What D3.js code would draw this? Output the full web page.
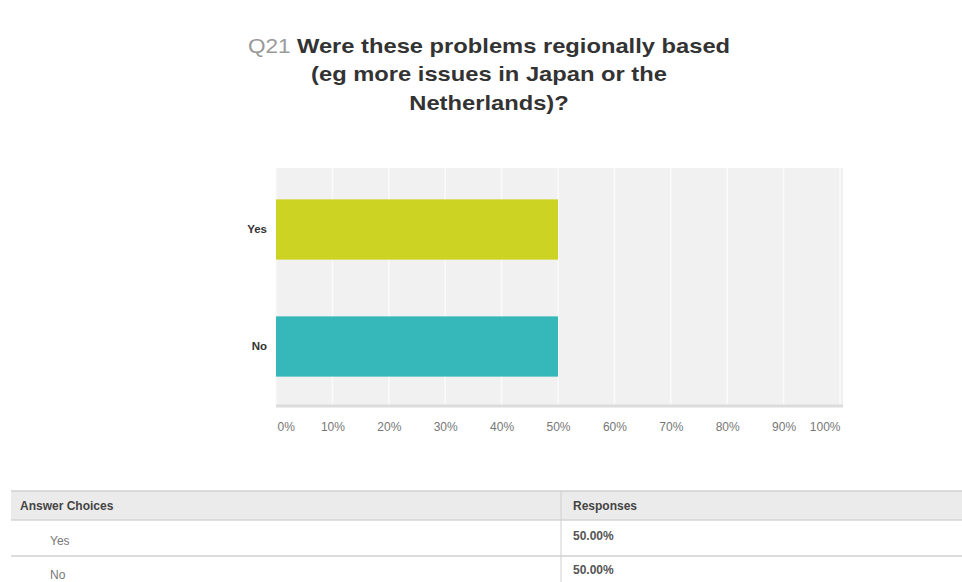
<!DOCTYPE html>
<html>
<head>
<meta charset="utf-8">
<script src="https://cdn.jsdelivr.net/npm/d3@7"></script>
<style>
  html, body { margin: 0; padding: 0; background: #fff; }
  svg { display: block; font-family: "Liberation Sans", Arial, sans-serif; }
</style>
</head>
<body>
<svg id="chart" width="962" height="582"></svg>
<script>
// Survey question and answers
const questionNumber = "Q21";
const titleLines = ["Were these problems regionally based", "(eg more issues in Japan or the", "Netherlands)?"];
const categories = ["Yes", "No"];
const values = [50, 50];           // percent of responses
const tickValues = [0, 10, 20, 30, 40, 50, 60, 70, 80, 90, 100];
const barColors = ["#cdd322", "#36b8ba"];
const tableHeaders = ["Answer Choices", "Responses"];

const svg = d3.select("#chart");

// Title (set in a slightly widened face)
const title = svg.append("g")
  .attr("transform", "translate(489,0) scale(1.13,1)")
  .append("text")
  .attr("text-anchor", "middle")
  .attr("font-size", 21)
  .attr("font-weight", "bold")
  .attr("fill", "#333");
titleLines.forEach((line, i) => {
  const t = title.append("tspan")
    .attr("x", 0)
    .attr("y", 53 + i * 28.5);
  if (i === 0) {
    t.append("tspan").attr("fill", "#9a9a9a").attr("font-weight", "normal").attr("font-size", 20).text(questionNumber + " ");
  }
  t.append("tspan").text(line);
});

// Plot area
const plot = { left: 276, right: 840, top: 168, bottom: 405 };

const x = d3.scaleLinear().domain([0, 100]).range([plot.left, plot.right]);
const y = d3.scaleBand().domain(categories).range([171, plot.bottom])
  .paddingInner(0.485).paddingOuter(0.2425);

svg.append("rect")
  .attr("x", plot.left).attr("y", plot.top)
  .attr("width", plot.right - plot.left + 3).attr("height", plot.bottom - plot.top)
  .attr("fill", "#f1f1f1");

// vertical gridlines
svg.append("g").selectAll("line").data(tickValues).join("line")
  .attr("x1", d => x(d)).attr("x2", d => x(d))
  .attr("y1", plot.top).attr("y2", plot.bottom)
  .attr("stroke", "#fafafa").attr("stroke-width", 1.5);

// baseline
svg.append("line")
  .attr("x1", plot.left).attr("x2", plot.right + 3)
  .attr("y1", plot.bottom + 1).attr("y2", plot.bottom + 1)
  .attr("stroke", "#dcdcdc").attr("stroke-width", 3);

// bars
svg.append("g").selectAll("rect").data(categories).join("rect")
  .attr("x", x(0))
  .attr("y", d => y(d))
  .attr("width", (d, i) => x(values[i]) - x(0))
  .attr("height", y.bandwidth())
  .attr("fill", (d, i) => barColors[i]);

// category labels
const yAxis = svg.append("g")
  .attr("transform", `translate(${plot.left - 9},0)`)
  .call(d3.axisLeft(y).tickSize(0).tickPadding(0));
yAxis.select(".domain").remove();
yAxis.selectAll("text")
  .attr("font-family", "'Liberation Sans', Arial, sans-serif")
  .attr("font-size", 11.5).attr("font-weight", "bold").attr("fill", "#333");

// percentage axis
const xAxis = svg.append("g")
  .attr("transform", `translate(0,${plot.bottom + 17})`)
  .call(d3.axisBottom(x).tickValues(tickValues).tickFormat(d => d + "%").tickSize(0).tickPadding(0));
xAxis.select(".domain").remove();
xAxis.selectAll("text")
  .attr("font-family", "'Liberation Sans', Arial, sans-serif")
  .attr("font-size", 12).attr("fill", "#777")
  .attr("text-anchor", d => d === 0 ? "start" : (d === 100 ? "end" : "middle"))
  .attr("dx", d => d === 0 ? 1 : 0);

// Summary table
const table = { left: 11, right: 962, divider: 561, top: 491, headerH: 29, rowH: 36 };
svg.append("rect")
  .attr("x", table.left).attr("y", table.top)
  .attr("width", table.right - table.left).attr("height", table.headerH)
  .attr("fill", "#ebebeb");
svg.append("line")
  .attr("x1", table.left).attr("x2", table.right)
  .attr("y1", table.top).attr("y2", table.top)
  .attr("stroke", "#d0d0d0").attr("stroke-width", 1.5);
svg.append("line")
  .attr("x1", table.left).attr("x2", table.right)
  .attr("y1", table.top + table.headerH).attr("y2", table.top + table.headerH)
  .attr("stroke", "#d5d5d5").attr("stroke-width", 1.5);
svg.append("line")
  .attr("x1", table.divider).attr("x2", table.divider)
  .attr("y1", table.top).attr("y2", 582)
  .attr("stroke", "#cfcfcf").attr("stroke-width", 1);

svg.append("g").selectAll("text").data(tableHeaders).join("text")
  .attr("x", (d, i) => i === 0 ? 20 : table.divider + 12)
  .attr("y", table.top + 19)
  .attr("font-size", 12).attr("font-weight", "bold").attr("fill", "#444")
  .text(d => d);

const rows = svg.append("g").selectAll("g").data(categories).join("g")
  .attr("transform", (d, i) => `translate(0,${table.top + table.headerH + i * (table.rowH - 2)})`);
rows.append("text")
  .attr("x", 50).attr("y", 25)
  .attr("font-size", 12).attr("fill", "#777")
  .text(d => d);
rows.append("text")
  .attr("x", table.divider + 12).attr("y", 20)
  .attr("font-size", 12).attr("font-weight", "bold").attr("fill", "#555")
  .text((d, i) => values[i].toFixed(2) + "%");
rows.filter((d, i) => i < categories.length - 1).append("line")
  .attr("x1", table.left).attr("x2", table.right)
  .attr("y1", table.rowH).attr("y2", table.rowH)
  .attr("stroke", "#d0d0d0").attr("stroke-width", 1.5);
</script>
</body>
</html>
